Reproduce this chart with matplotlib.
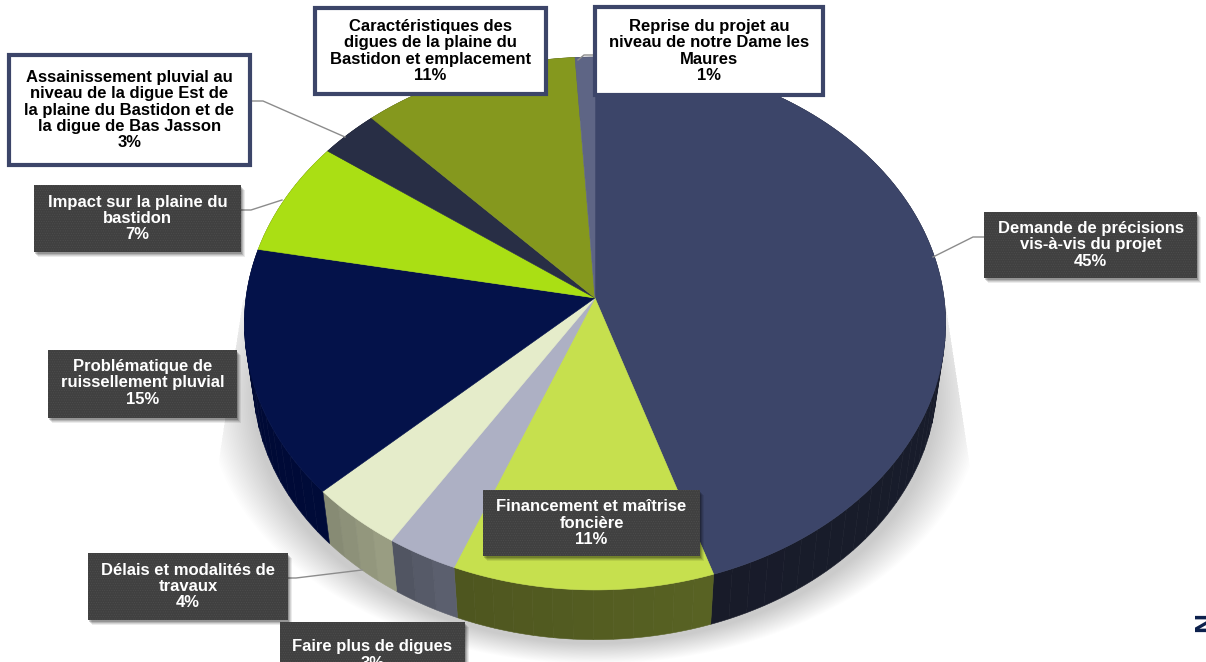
import numpy as np
import matplotlib
matplotlib.use('Agg')
import matplotlib.pyplot as plt
import matplotlib.colors as mcolors
from matplotlib.patches import Rectangle, Polygon

plt.rcParams['font.family'] = ['Liberation Sans', 'DejaVu Sans']
plt.rcParams['hatch.linewidth'] = 0.4

# data, clockwise from the top of the pie
categories = ['Demande de précisions\nvis-à-vis du projet',
              'Financement et maîtrise\nfoncière',
              'Faire plus de digues',
              'Délais et modalités de\ntravaux',
              'Problématique de\nruissellement pluvial',
              'Impact sur la plaine du\nbastidon',
              'Assainissement pluvial au\nniveau de la digue Est de\nla plaine du Bastidon et de\nla digue de Bas Jasson',
              'Caractéristiques des\ndigues de la plaine du\nBastidon et emplacement',
              'Reprise du projet au\nniveau de notre Dame les\nMaures']
values = [45, 11, 3, 4, 15, 7, 3, 11, 1]

top_colors = ['#3c4569', '#c6e04e', '#adb0c4', '#e5ecca', '#04124a',
              '#aadf14', '#282e45', '#85981e', '#5e6585']
wall_colors = ['#191d2c', '#535c21', '#565a68', '#90947b', '#000a35',
               '#4a6208', '#11141e', '#3a420d', '#292c3a']

# label boxes in pixels: x0, y0, x1, y1, white?
boxes = [(984, 212, 1197, 278, False),
         (483, 490, 700, 556, False),
         (280, 622, 465, 690, False),
         (88, 553, 288, 620, False),
         (48, 350, 237, 418, False),
         (34, 185, 241, 252, False),
         (9, 55, 250, 165, True),
         (315, 8, 546, 94, True),
         (595, 7, 823, 95, True)]

leaders = [[(933, 257), (973, 237), (985, 237)],
           [(345, 137), (263, 101), (250, 101)],
           [(282, 200), (251, 210), (241, 210)],
           [(362, 570), (296, 578), (288, 578)],
           [(578, 60), (584, 55), (596, 55)]]

APEX = (595, 298)
RX, RY, K = 349, 264, 0.0957
WALL_DROP, WALL_SCALE = 57, 0.975


def project(deg, scale=1.0, drop=0.0):
    # perspective view of the disc, deg measured clockwise from the back
    t = np.radians(deg)
    x, y = np.sin(t), -np.cos(t)
    d = 1 - K * y
    return (APEX[0] + scale * RX * x / d,
            APEX[1] + drop + scale * RY * y / d)


fig = plt.figure(figsize=(12.06, 6.62), dpi=100)
ax = fig.add_axes([0, 0, 1, 1])
ax.set_xlim(0, 1206)
ax.set_ylim(662, 0)
ax.axis('off')

# soft shadow behind the pie
clip = Polygon([(945, 300), (972, 480), (1010, 662), (180, 662), (216, 480), (243, 300)],
               transform=ax.transData, fc='none', ec='none')
ax.add_patch(clip)
theta = np.linspace(0, 2 * np.pi, 240)
for s in np.linspace(1.0, 0.0, 26):
    sx = 342 + 46 * s
    sy = 246 + 20 * s
    p = ax.fill(595 + sx * np.cos(theta), 398 + sy * np.sin(theta),
                color='black', alpha=0.0095, lw=0, zorder=1)[0]
    p.set_clip_path(clip)

edges = np.cumsum([0] + values) * 3.6

# side wall
for i in range(len(values)):
    a0, a1 = edges[i], edges[i + 1]
    steps = np.linspace(a0, a1, max(int(a1 - a0) // 3, 2) + 1)
    base = np.array(mcolors.to_rgb(wall_colors[i]))
    for j in range(len(steps) - 1):
        t = np.linspace(steps[j], steps[j + 1], 6)
        xt, yt = project(t)
        xb, yb = project(t[::-1], WALL_SCALE, WALL_DROP)
        shade = 1.06 - 0.12 * j / max(len(steps) - 2, 1)
        col = np.clip(base * shade, 0, 1)
        ax.fill(np.r_[xt, xb], np.r_[yt, yb], color=col, lw=0.4, zorder=2)

# top face
for i in range(len(values)):
    t = np.linspace(edges[i], edges[i + 1], max(int(values[i] * 3.6), 4) + 1)
    x, y = project(t)
    ax.fill(np.r_[APEX[0], x], np.r_[APEX[1], y], color=top_colors[i], lw=0.4, zorder=3)

for pts in leaders:
    xs, ys = zip(*pts)
    ax.plot(xs, ys, color='#8c8c8c', lw=1, zorder=4)

# labels
for name, val, (x0, y0, x1, y1, white) in zip(categories, values, boxes):
    w, h = x1 - x0, y1 - y0
    if white:
        ax.add_patch(Rectangle((x0, y0), w, h, fc='white', ec='#3c4569', lw=3, zorder=6))
        col = 'black'
    else:
        for off, al in [(5, 0.08), (4, 0.10), (3, 0.14), (2, 0.18)]:
            ax.add_patch(Rectangle((x0 + off - 1, y0 + off), w, h, fc='black', alpha=al, lw=0, zorder=5))
        ax.add_patch(Rectangle((x0, y0), w, h, fc='#404040', ec='#4e4e4e', hatch='.......', lw=0, zorder=6))
        col = 'white'
    # the cut-off box keeps its text at the same place
    yc = y0 + 33 if h > 67 and not white else (y0 + y1) / 2
    ax.text((x0 + x1) / 2, yc, f'{name}\n{val}%', ha='center', va='center', color=col,
            fontsize=12, fontweight='bold', linespacing=1.12, zorder=7)

# clipped page mark at the right edge
ax.text(1206, 622, 'N', rotation=90, ha='center', va='center', color='#0b1f4b',
        fontsize=20, fontweight='bold', zorder=7)

plt.savefig('out.png', dpi=100)
